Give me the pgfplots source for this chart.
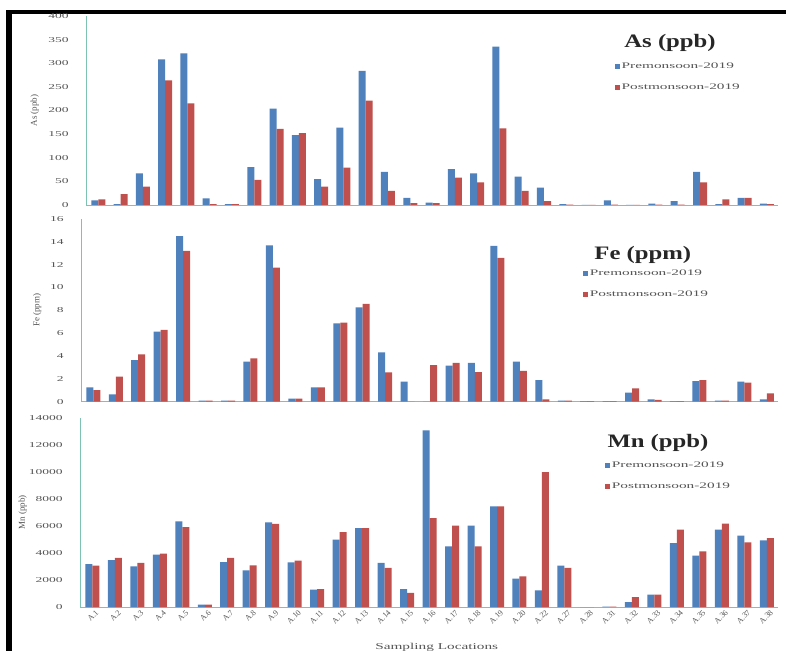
\documentclass[border=0pt]{standalone}
\usepackage{graphicx}
\usepackage{pgfplots}
\usepackage{pgfplotstable}
\pgfplotsset{compat=1.18}
\usepackage{fontspec}
\setmainfont{Liberation Serif}
\definecolor{exblue}{RGB}{79,129,189}
\definecolor{exred}{RGB}{192,80,77}
\definecolor{axteal}{RGB}{125,195,180}
\definecolor{tickgray}{RGB}{85,85,85}

\pgfplotstableread{
x asPre asPost fePre fePost mnPre mnPost
0  10  12  1.26 1.02 3185 3060
1  2   23  0.64 2.19 3480 3630
2  67  39  3.65 4.15 3010 3260
3  308 264 6.14 6.29 3880 3950
4  321 215 14.5 13.2 6345 5925
5  14  2   0.1  0.1  170  170
6  2   2   0.1  0.1  3330 3630
7  80  53  3.5  3.8  2720 3090
8  204 161 13.7 11.75 6270 6150
9  148 152 0.26 0.26 3310 3430
10 55  39  1.26 1.26 1280 1330
11 164 79  6.87 6.93 4990 5555
12 284 221 8.27 8.57 5850 5850
13 70  30  4.33 2.57 3260 2890
14 15  4   1.75 0    1330 1040
15 5   4   0    3.2  13090 6590
16 76  58  3.16 3.4  4490 6025
17 67  48  3.4  2.6  6025 4490
18 335 162 13.65 12.6 7460 7460
19 60  30  3.5  2.7  2100 2270
20 37  8   1.9  0.2  1235 10000
21 2   1   0.1  0.1  3060 2890
22 0   0   0.05 0.05 0    0
23 10  1   0.05 0.05 30   30
24 0   0   0.8  1.17 370  740
25 3   1   0.2  0.15 915  915
26 8   1   0.05 0.05 4740 5730
27 70  48  1.8  1.9  3800 4120
28 2   12  0.1  0.1  5730 6170
29 15  15  1.75 1.67 5280 4790
30 3   2   0.2  0.73 4940 5110
}\datatable

\pgfplotsset{
  panel/.style={
    scale only axis,
    ybar=0pt, bar width=7pt,
    xmin=-0.55, xmax=30.5,
    enlarge y limits=false,
    axis x line=bottom, axis y line=left,
    axis line style={axteal, line width=0.8pt, -},
    xtick style={draw=none}, ytick style={draw=none},
    /pgf/number format/assume math mode=true,
    /pgf/number format/fixed,
    /pgf/number format/1000 sep={},
    scaled y ticks=false,
    yticklabel style={font=\fontsize{7.5}{7.5}\selectfont, text=tickgray, xshift=-9pt, xscale=1.8, anchor=east},
    every axis y label/.style={rotate=90, anchor=center, font=\fontsize{9}{9}\selectfont, text=tickgray},
    legend style={draw=none, fill=none, font=\fontsize{8.5}{8.5}\selectfont, text=tickgray,
      row sep=10pt, cells={anchor=west}, anchor=north west},
  },
  bluebar/.style={fill=exblue, draw=none,
    legend image code/.code={\fill[exblue] (0pt,-2.3pt) rectangle (4.6pt,2.3pt);}},
  redbar/.style={fill=exred, draw=none,
    legend image code/.code={\fill[exred] (0pt,-2.3pt) rectangle (4.6pt,2.3pt);}},
}

\newcommand{\legtxt}[1]{\scalebox{1.8}[1]{#1}}

\begin{document}
\begin{tikzpicture}[x=1pt,y=1pt]
\path[use as bounding box, fill=white] (0,0) rectangle (786,651);
\fill[black] (6,0) rectangle (12,641);
\fill[black] (6,637) rectangle (786,641);

% As panel
\begin{axis}[panel,
  at={(86pt,446pt)}, anchor=south west,
  width=692pt, height=189pt,
  ymin=0, ymax=400, ytick={0,50,...,400},
  xtick=\empty,
  ylabel={As (ppb)},
  every axis y label/.append style={at={(axis description cs:-0.074,0.5)}},
  legend style={at={(axis description cs:0.76,0.775)}},
]
\addplot[bluebar] table[x=x, y=asPre] {\datatable};
\addplot[redbar] table[x=x, y=asPost] {\datatable};
\addlegendentry{\legtxt{Premonsoon-2019}}
\addlegendentry{\legtxt{Postmonsoon-2019}}
\node[font=\fontsize{19}{19}\selectfont\bfseries, text=black!85, xscale=1.3] at (rel axis cs:0.844,0.857) {As (ppb)};
\end{axis}

% Fe panel
\begin{axis}[panel,
  at={(81pt,249.3pt)}, anchor=south west,
  width=697pt, height=182.7pt,
  ymin=0, ymax=16, ytick={0,2,...,16},
  xtick=\empty,
  ylabel={Fe (ppm)},
  every axis y label/.append style={at={(axis description cs:-0.063,0.5)}},
  legend style={at={(axis description cs:0.716,0.745)}},
]
\addplot[bluebar] table[x=x, y=fePre] {\datatable};
\addplot[redbar] table[x=x, y=fePost] {\datatable};
\addlegendentry{\legtxt{Premonsoon-2019}}
\addlegendentry{\legtxt{Postmonsoon-2019}}
\node[font=\fontsize{19}{19}\selectfont\bfseries, text=black!85, xscale=1.3] at (rel axis cs:0.806,0.803) {Fe (ppm)};
\end{axis}

% Mn panel
\begin{axis}[panel,
  at={(80pt,44pt)}, anchor=south west,
  width=698pt, height=189pt,
  ymin=0, ymax=14000, ytick={0,2000,...,14000},
  xtick={0,...,30},
  xticklabels={A.1,A.2,A.3,A.4,A.5,A.6,A.7,A.8,A.9,A.10,A.11,A.12,A.13,A.14,A.15,A.16,A.17,A.18,A.19,A.20,A.22,A.27,A.28,A.31,A.32,A.33,A.34,A.35,A.36,A.37,A.38},
  xticklabel style={font=\fontsize{8}{8}\selectfont, text=tickgray, rotate=45, anchor=east, inner sep=1pt, yshift=-5pt, xshift=3pt},
  ylabel={Mn (ppb)},
  every axis y label/.append style={at={(axis description cs:-0.082,0.5)}},
  xlabel={\scalebox{1.7}[1]{Sampling Locations}},
  every axis x label/.style={at={(axis description cs:0.511,-0.215)}, anchor=center, font=\fontsize{9}{9}\selectfont, text=tickgray},
  legend style={at={(axis description cs:0.748,0.79)}},
]
\addplot[bluebar] table[x=x, y=mnPre] {\datatable};
\addplot[redbar] table[x=x, y=mnPost] {\datatable};
\addlegendentry{\legtxt{Premonsoon-2019}}
\addlegendentry{\legtxt{Postmonsoon-2019}}
\node[font=\fontsize{19}{19}\selectfont\bfseries, text=black!85, xscale=1.3] at (rel axis cs:0.828,0.868) {Mn (ppb)};
\end{axis}
\end{tikzpicture}
\end{document}
